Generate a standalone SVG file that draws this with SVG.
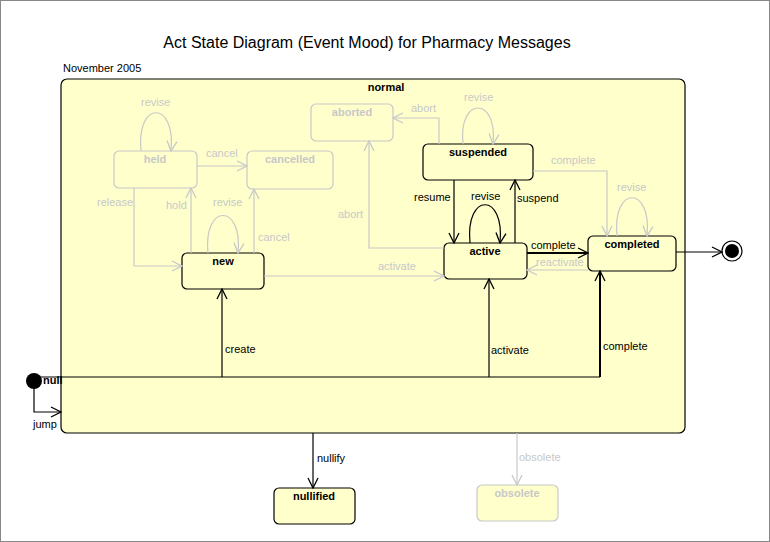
<svg xmlns="http://www.w3.org/2000/svg" width="770" height="542" viewBox="0 0 770 542">
<defs>
<marker id="ad" viewBox="0 0 12 12" refX="11" refY="6" markerWidth="12" markerHeight="12" markerUnits="userSpaceOnUse" orient="auto"><path d="M1,1 L11,6 L1,11" fill="none" stroke="#000" stroke-width="1.3"/></marker>
<marker id="ag" viewBox="0 0 12 12" refX="11" refY="6" markerWidth="12" markerHeight="12" markerUnits="userSpaceOnUse" orient="auto"><path d="M1,1 L11,6 L1,11" fill="none" stroke="#c8c8c8" stroke-width="1.3"/></marker>
</defs>
<style>
text{font-family:"Liberation Sans",Arial,sans-serif;font-size:11px;fill:#000}
.b{font-weight:bold}
.g{fill:#c8c8c8}
.n{fill:#ffffcc;stroke:#000;stroke-width:1.2}
.ng{fill:#ffffcc;stroke:#c8c8c8;stroke-width:1.2}
.l{fill:none;stroke:#000;stroke-width:1.2}
.c{fill:none;stroke:#000;stroke-width:1.2;marker-end:url(#ad)}
.ct{fill:none;stroke:#000;stroke-width:2;marker-end:url(#ad)}
.cg{fill:none;stroke:#c8c8c8;stroke-width:1.2;marker-end:url(#ag)}
</style>
<rect x="0.5" y="0.5" width="769" height="541" fill="#fff" stroke="#888"/>
<text x="367" y="48" text-anchor="middle" style="font-size:16px">Act State Diagram (Event Mood) for Pharmacy Messages</text>
<text x="63" y="72">November 2005</text>
<g id="normal"><rect class="n" x="61" y="79" width="624" height="354" rx="6"/><text class="b" x="386" y="91" text-anchor="middle">normal</text></g>
<g id="held"><rect class="ng" x="114" y="151" width="83" height="37" rx="5"/><text class="b g" x="155" y="163" text-anchor="middle">held</text></g>
<g id="cancelled"><rect class="ng" x="247" y="151" width="86" height="38" rx="5"/><text class="b g" x="290" y="163" text-anchor="middle">cancelled</text></g>
<g id="aborted"><rect class="ng" x="311" y="104" width="82" height="37" rx="5"/><text class="b g" x="352" y="116" text-anchor="middle">aborted</text></g>
<g id="new"><rect class="n" x="182" y="253" width="82" height="36" rx="5"/><text class="b" x="223" y="265" text-anchor="middle">new</text></g>
<g id="suspended"><rect class="n" x="423" y="144" width="110" height="36" rx="5"/><text class="b" x="478" y="156" text-anchor="middle">suspended</text></g>
<g id="active"><rect class="n" x="444" y="243" width="83" height="36" rx="5"/><text class="b" x="485" y="255" text-anchor="middle">active</text></g>
<g id="completed"><rect class="n" x="588" y="236" width="88" height="35" rx="5"/><text class="b" x="632" y="248" text-anchor="middle">completed</text></g>
<g id="final"><circle cx="732" cy="251" r="10" fill="#fff" stroke="#000" stroke-width="1.2"/><circle cx="732" cy="251" r="7" fill="#000"/></g>
<g id="null"><circle cx="34" cy="381" r="8" fill="#000"/><text class="b" x="43" y="384">null</text></g>
<g id="nullified"><rect class="n" x="274" y="488" width="81" height="36" rx="5"/><text class="b" x="314" y="500" text-anchor="middle">nullified</text></g>
<g id="obsolete"><rect class="ng" x="477" y="485" width="81" height="36" rx="5"/><text class="b g" x="517" y="497" text-anchor="middle">obsolete</text></g>
<g id="connectors">
<path class="l" d="M34,377 H600"/>
<path class="c" d="M222,377 V289"/>
<path class="c" d="M489,377 V279"/>
<path class="ct" d="M600,377 V271"/>
<path class="c" d="M34,385 V412 H61"/>
<path class="c" d="M313,433 V488"/>
<path class="cg" d="M517,433 V485"/>
<path class="cg" d="M141,151 C136,100 176,100 171,151"/>
<path class="cg" d="M197,166 H247"/>
<path class="cg" d="M134,188 V266 H182"/>
<path class="cg" d="M191,253 V188"/>
<path class="cg" d="M208,253 C203,203 243,203 238,253"/>
<path class="cg" d="M254,253 V189"/>
<path class="cg" d="M264,276 H444"/>
<path class="cg" d="M444,248 H369 V141"/>
<path class="cg" d="M439,144 V118 H393"/>
<path class="cg" d="M463,144 C458,96 498,96 493,144"/>
<path class="c" d="M454,180 V243"/>
<path class="c" d="M515,243 V180"/>
<path class="c" d="M470,243 C465,192 505,192 500,243"/>
<path class="cg" d="M533,171 H607 V236"/>
<path class="ct" d="M527,253 H588"/>
<path class="cg" d="M588,270 H527"/>
<path class="cg" d="M617,236 C612,185 652,185 647,236"/>
<path class="c" d="M676,252 H722" stroke-width="1.5"/>
</g>
<g id="labels">
<text x="225" y="353">create</text>
<text x="491" y="354">activate</text>
<text x="603" y="350">complete</text>
<text x="33" y="428">jump</text>
<text x="317" y="462">nullify</text>
<text class="g" x="519" y="461">obsolete</text>
<text class="g" x="141" y="106">revise</text>
<text class="g" x="206" y="157">cancel</text>
<text class="g" x="97" y="206">release</text>
<text class="g" x="166" y="209">hold</text>
<text class="g" x="213" y="206">revise</text>
<text class="g" x="258" y="241">cancel</text>
<text class="g" x="378" y="270">activate</text>
<text class="g" x="338" y="218">abort</text>
<text class="g" x="411" y="112">abort</text>
<text class="g" x="464" y="101">revise</text>
<text x="414" y="201">resume</text>
<text x="471" y="200">revise</text>
<text x="517" y="202">suspend</text>
<text class="g" x="551" y="164">complete</text>
<text x="531" y="249">complete</text>
<text class="g" x="536" y="266">reactivate</text>
<text class="g" x="617" y="191">revise</text>
</g>
</svg>
